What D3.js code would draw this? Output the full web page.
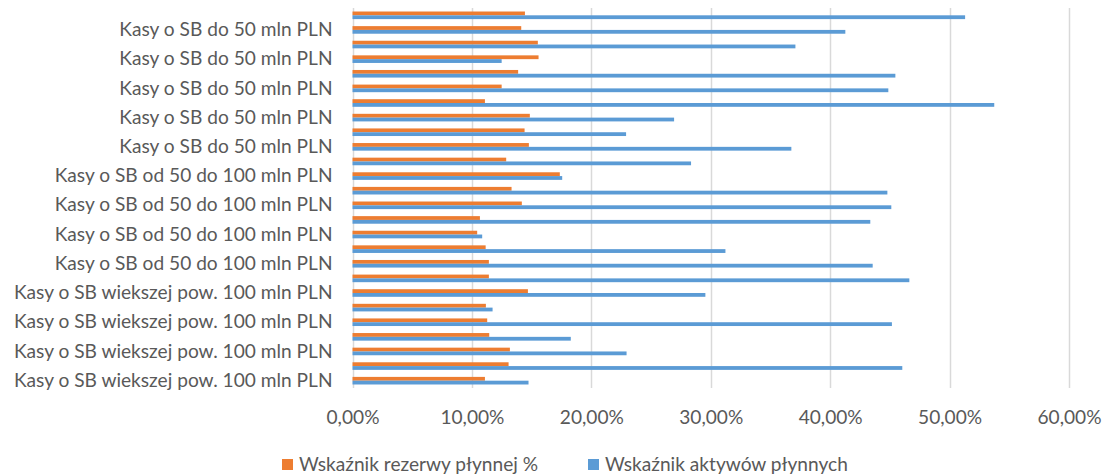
<!DOCTYPE html>
<html><head><meta charset="utf-8">
<script src="https://cdn.jsdelivr.net/npm/d3@7"></script>
<style>body{margin:0;background:#fff} svg{display:block}</style>
</head><body><svg id="c" width="1104" height="476"></svg>
<script>
// Categories listed top-to-bottom as displayed
const categories = [
  "Kasy o SB do 50 mln PLN","Kasy o SB do 50 mln PLN","Kasy o SB do 50 mln PLN","Kasy o SB do 50 mln PLN","Kasy o SB do 50 mln PLN",
  "Kasy o SB do 50 mln PLN","Kasy o SB do 50 mln PLN","Kasy o SB do 50 mln PLN","Kasy o SB do 50 mln PLN","Kasy o SB do 50 mln PLN",
  "Kasy o SB od 50 do 100 mln PLN","Kasy o SB od 50 do 100 mln PLN","Kasy o SB od 50 do 100 mln PLN","Kasy o SB od 50 do 100 mln PLN",
  "Kasy o SB od 50 do 100 mln PLN","Kasy o SB od 50 do 100 mln PLN","Kasy o SB od 50 do 100 mln PLN","Kasy o SB od 50 do 100 mln PLN",
  "Kasy o SB wiekszej pow. 100 mln PLN","Kasy o SB wiekszej pow. 100 mln PLN","Kasy o SB wiekszej pow. 100 mln PLN","Kasy o SB wiekszej pow. 100 mln PLN",
  "Kasy o SB wiekszej pow. 100 mln PLN","Kasy o SB wiekszej pow. 100 mln PLN","Kasy o SB wiekszej pow. 100 mln PLN","Kasy o SB wiekszej pow. 100 mln PLN"
];
const seriesNames = ["Wskaźnik rezerwy płynnej %", "Wskaźnik aktywów płynnych"];
const seriesColors = ["#ED7D31", "#5B9BD5"];
const rezerwa = [0.1444,0.1413,0.1552,0.1558,0.1387,0.1249,0.1109,0.1485,0.1441,0.1477,0.1287,0.1736,0.1332,
                 0.1418,0.1067,0.1044,0.1115,0.1142,0.1142,0.1469,0.1117,0.1128,0.1145,0.1318,0.1307,0.1109];
const aktywa = [0.5130,0.4127,0.3709,0.1249,0.4546,0.4487,0.5374,0.2693,0.2291,0.3675,0.2835,0.1756,0.4479,
                0.4512,0.4336,0.1086,0.3123,0.4356,0.4663,0.2955,0.1173,0.4517,0.1828,0.2295,0.4604,0.1474];
const xTicks = [0, 0.1, 0.2, 0.3, 0.4, 0.5, 0.6];

const svg = d3.select("#c");
const FONT = "Lato, 'Open Sans', sans-serif";
const TXT = "#595959";

// fit font size so the longest category label spans ~319px
const probe = svg.append("text").attr("font-family", FONT).attr("font-size", 20)
  .text("Kasy o SB wiekszej pow. 100 mln PLN");
const fs = 20 * 319 / probe.node().getComputedTextLength();
probe.remove();

const plot = {left: 352.5, right: 1069, top: 8, bottom: 388};
const x = d3.scaleLinear().domain([0, 0.6]).range([plot.left, plot.right]);
const y = d3.scaleBand().domain(d3.range(categories.length)).range([plot.top, plot.bottom])
  .paddingInner(0.48).paddingOuter(0.24);
const ySub = d3.scaleBand().domain([0, 1]).range([0, y.bandwidth()]);

const pl = d3.formatLocale({decimal: ",", thousands: " ", grouping: [3], currency: ["", " zł"]});
const fmt = pl.format(".2%");

// gridlines
svg.append("g").selectAll("line").data(xTicks).join("line")
  .attr("x1", d => Math.round(x(d)) + 0.5).attr("x2", d => Math.round(x(d)) + 0.5)
  .attr("y1", plot.top).attr("y2", plot.bottom)
  .attr("stroke", "#d9d9d9").attr("stroke-width", 1.5);

// bars
const series = [rezerwa, aktywa];
series.forEach((vals, s) => {
  svg.append("g").selectAll("rect").data(vals).join("rect")
    .attr("x", x(0))
    .attr("y", (d, i) => y(i) + ySub(s))
    .attr("width", d => x(d) - x(0))
    .attr("height", ySub.bandwidth())
    .attr("fill", seriesColors[s]);
});

// category axis
const yAxis = svg.append("g").attr("transform", `translate(${plot.left},0)`)
  .call(d3.axisLeft(y).tickSize(0).tickPadding(20)
    .tickFormat(i => i % 2 === 1 ? categories[i] : ""));
yAxis.select(".domain").remove();
yAxis.selectAll("text").attr("font-family", FONT).attr("font-size", fs).attr("fill", TXT);

// value axis
const xAxis = svg.append("g").attr("transform", `translate(0,417)`)
  .call(d3.axisBottom(x).tickValues(xTicks).tickSize(0).tickFormat(fmt));
xAxis.select(".domain").remove();
xAxis.selectAll("text").attr("y", 0).attr("dy", "0.35em")
  .attr("font-family", FONT).attr("font-size", fs).attr("fill", TXT);

// legend
const legendX = [282, 588];
const lg = svg.append("g").selectAll("g").data(seriesNames).join("g")
  .attr("transform", (d, i) => `translate(${legendX[i]},459)`);
lg.append("rect").attr("width", 11).attr("height", 11).attr("fill", (d, i) => seriesColors[i]);
lg.append("text").attr("x", 17).attr("y", 5.5).attr("dy", "0.35em")
  .attr("font-family", FONT).attr("font-size", fs).attr("fill", TXT).text(d => d);
</script>
</body></html>
